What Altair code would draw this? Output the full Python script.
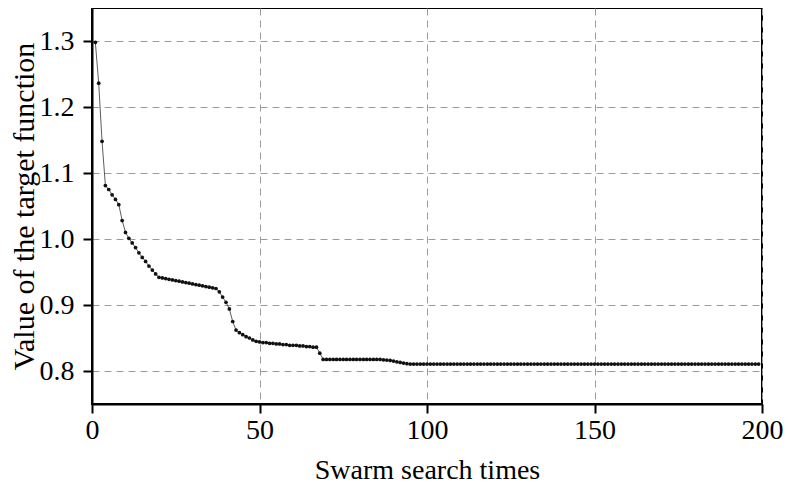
import altair as alt
import pandas as pd

# x positions: swarm search iterations
iterations = list(range(1, 200))

# values, segment by segment
seg_start = [1.298, 1.236, 1.148, 1.081, 1.075, 1.067, 1.060, 1.052, 1.028, 1.010,
             1.001, 0.994, 0.987, 0.979, 0.972, 0.966, 0.959, 0.953, 0.947, 0.942]          # 1..20
seg_shelf1 = [0.941, 0.940, 0.939, 0.938, 0.937, 0.936, 0.935, 0.934, 0.933, 0.932,
              0.931, 0.930, 0.929, 0.928, 0.927, 0.926, 0.925]                             # 21..37
seg_drop1 = [0.920, 0.912, 0.904, 0.894, 0.875, 0.862, 0.858, 0.855, 0.852, 0.850,
             0.847, 0.845, 0.844]                                                          # 38..50
seg_shelf2 = [0.843, 0.843, 0.842, 0.842, 0.841, 0.841, 0.840, 0.840, 0.839, 0.839,
              0.839, 0.838, 0.838, 0.837, 0.837, 0.836, 0.836]                             # 51..67
seg_drop2 = [0.827]                                                                        # 68
seg_shelf3 = [0.8175] * 18                                                                 # 69..86
seg_drop3 = [0.817, 0.8165, 0.816, 0.815, 0.814, 0.813, 0.812, 0.811]                     # 87..94
seg_final = [0.8105] * 105                                                                 # 95..199

values = seg_start + seg_shelf1 + seg_drop1 + seg_shelf2 + seg_drop2 + seg_shelf3 + seg_drop3 + seg_final

x_ticks = [0, 50, 100, 150, 200]
y_ticks = [0.8, 0.9, 1.0, 1.1, 1.2, 1.3]

df = pd.DataFrame({"x": iterations, "y": values})

FONT = "'Liberation Serif', 'Times New Roman', Times, serif"

x_enc = alt.X(
    "x:Q",
    scale=alt.Scale(domain=[0, 200], nice=False, zero=False),
    axis=alt.Axis(
        values=x_ticks,
        title="Swarm search times",
        labelPadding=3,
        titlePadding=12,
        titleFontSize=28,
        labelFlush=False,
    ),
)
y_enc = alt.Y(
    "y:Q",
    scale=alt.Scale(domain=[0.75, 1.35], nice=False, zero=False),
    axis=alt.Axis(
        values=y_ticks,
        format=".1f",
        title="Value of the target function",
        labelPadding=9,
        titlePadding=0,
        titleFontSize=30,
    ),
)

base = alt.Chart(df)
line = base.mark_line(color="#333333", strokeWidth=0.8).encode(x=x_enc, y=y_enc)
pts = base.mark_circle(color="#111111", size=14, opacity=1).encode(x=x_enc, y=y_enc)

chart = (
    (line + pts)
    .properties(
        width=670,
        height=396,
        autosize=alt.AutoSizeParams(type="none"),
        padding={"left": 84, "top": 0, "right": 21, "bottom": 82},
    )
    .configure_view(stroke="black", strokeWidth=2)
    .configure_axis(
        domainColor="black",
        domainWidth=2,
        tickColor="black",
        tickWidth=2,
        tickSize=9,
        labelFont=FONT,
        labelFontSize=28,
        labelColor="black",
        labelOverlap=False,
        titleFont=FONT,
        titleFontWeight="normal",
        titleColor="black",
        gridColor="#9a9a9a",
        gridDash=[7, 5],
        gridWidth=1,
        gridOpacity=1,
    )
)

chart.save("out.html", embed_options={"renderer": "svg", "actions": False})
